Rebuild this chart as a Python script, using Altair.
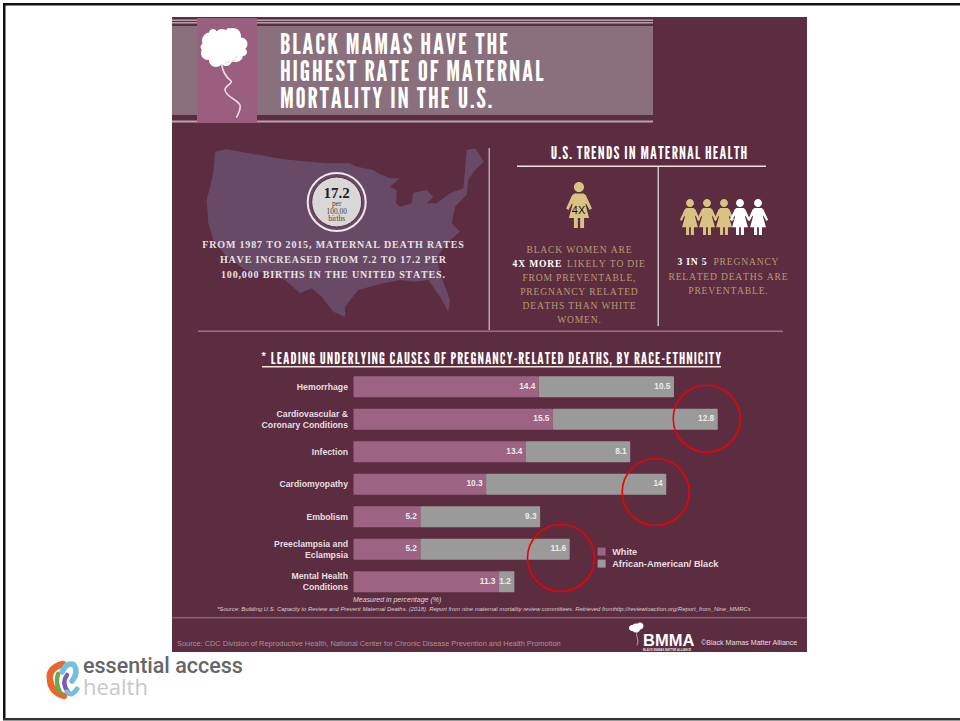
import altair as alt
import pandas as pd

# Stacked-bar data: deaths by cause and race-ethnicity (percent)
CAUSES = [
    "Hemorrhage",
    "Cardiovascular &\nCoronary Conditions",
    "Infection",
    "Cardiomyopathy",
    "Embolism",
    "Preeclampsia and\nEclampsia",
    "Mental Health\nConditions",
]
WHITE = [14.4, 15.5, 13.4, 10.3, 5.2, 5.2, 11.3]
BLACK = [10.5, 12.8, 8.1, 14, 9.3, 11.6, 1.2]
SERIES = ["White", "African-American/ Black"]
SERIES_COLORS = ["#9c6482", "#9a9a9a"]

# Brand colours
PANEL = "#5c2c40"
BAND = "#8a707c"
COLUMN = "#9a5f7e"
STRIPE = "#b9a3ac"
TAN = "#b89a72"
GOLD = "#d9c283"
PALE = "#e9e2e2"
RED = "#ee0000"

HEAD = "League Gothic, Liberation Sans Narrow, Liberation Sans"
SERIF = "Liberation Serif"
SANS = "Liberation Sans"

WIDTH, HEIGHT = 960, 721

stub = pd.DataFrame({"k": [0]})


def track(s, ch="\u200a"):
    return ch.join(s)


def box(x0, x1, y0, y1, color):
    return alt.Chart(stub).mark_rect(color=color).encode(
        x=alt.value(x0), x2=alt.value(x1), y=alt.value(y0), y2=alt.value(y1)
    )


def label(s, x, y, size, color, font=SANS, weight="normal", style="normal", align="center"):
    return alt.Chart(stub).mark_text(
        font=font, fontSize=size, fontWeight=weight, fontStyle=style,
        color=color, align=align, baseline="alphabetic",
    ).encode(x=alt.value(x), y=alt.value(y), text=alt.value(s))


def glyph(path, fill=None, stroke=None, width=1.0, x=0, y=0, half=1.0):
    """Custom SVG path drawn as a symbol; `half` is the pixel length of one path unit."""
    props = dict(shape=path, size=(2 * half) ** 2, opacity=1)
    if fill:
        props.update(filled=True, fill=fill, strokeWidth=0)
    else:
        props.update(filled=False, stroke=stroke, strokeWidth=width,
                     strokeCap="round", strokeJoin="round", fill=None)
    return alt.Chart(stub).mark_point(**props).encode(x=alt.value(x), y=alt.value(y))


def ring(x, y, diameter, stroke, width, fill=None):
    props = dict(shape="circle", size=diameter ** 2, opacity=1, stroke=stroke, strokeWidth=width)
    if fill:
        props.update(filled=True, fill=fill)
    else:
        props.update(filled=False)
    return alt.Chart(stub).mark_point(**props).encode(x=alt.value(x), y=alt.value(y))


def disc(cx, cy, r):
    return f"M{cx - r},{cy}A{r},{r} 0 1 1 {cx + r},{cy}A{r},{r} 0 1 1 {cx - r},{cy}Z"


# Contiguous-US silhouette
US_X = [135, 170, 250, 340, 470, 540, 560, 610, 625, 660, 690, 660, 680, 678, 690, 725, 730, 770, 790,
        770, 800, 840, 880, 885, 890, 915, 942, 915, 895, 890, 855, 845, 870, 830, 800, 810, 840, 835,
        810, 775, 735, 690, 640, 565, 525, 525, 490, 455, 425, 390, 345, 290, 225, 165, 130, 115, 110, 130]
US_Y = [425, 418, 432, 448, 460, 460, 470, 480, 490, 505, 505, 530, 540, 580, 590, 580, 548, 540, 560,
        580, 580, 550, 535, 480, 420, 415, 455, 480, 510, 555, 590, 640, 665, 700, 745, 790, 870, 905,
        860, 810, 815, 810, 820, 840, 890, 920, 905, 860, 835, 850, 810, 790, 780, 735, 690, 640, 570, 490]
us_path = "M" + "L".join(f"{170 + a / 3:.1f},{10 + b / 3:.1f}" for a, b in zip(US_X, US_Y)) + "Z"

# Tree-crown silhouette, built from overlapping discs
CROWN = [(223, 47, 15), (211, 41, 9), (222, 36, 7), (233, 36, 8), (241, 44, 6.5), (243, 52, 4),
         (208, 53, 7), (216, 60, 7), (226, 60, 6), (236, 55, 7), (204, 47, 3.5), (213, 33, 4), (229, 31, 3)]
crown_path = "".join(disc(*c) for c in CROWN)
stem_path = "M221.7,65C223,73 226,77 231,81C233,84 225,85 225,90C226,97 238,100 240,105C241,110 238,114 236.7,117"
twig_path = "M225,62C230,63 235,62 237,56"

# Standing-woman pictogram, one path unit = half its height
WOMAN = (disc(0, -0.78, 0.22) +
         "M-0.2,-0.5L0.2,-0.5L0.3,-0.42L0.56,0.15L0.46,0.22L0.3,-0.08L0.28,-0.02L0.44,0.57L0.22,0.57"
         "L0.22,1L0.05,1L0.05,0.57L-0.05,0.57L-0.05,1L-0.22,1L-0.22,0.57L-0.44,0.57L-0.28,-0.02"
         "L-0.3,-0.08L-0.46,0.22L-0.56,0.15L-0.3,-0.42Z")
ROW_X = [690, 707, 724, 740, 758]
ROW_FILL = [GOLD, GOLD, GOLD, "#ffffff", "#ffffff"]

# ---- Backdrop -------------------------------------------------------------
backdrop = [
    box(3, WIDTH, 3, 5.5, "#111111"),
    box(3, 5.5, 3, 718, "#111111"),
    box(3, WIDTH, 718, 720.5, "#333333"),
    box(172, 807, 17, 652, PANEL),
    box(172, 653, 19.5, 21, STRIPE),
    box(172, 653, 22, 23.5, STRIPE),
    box(172, 653, 26, 115, BAND),
    box(172, 653, 120.5, 122.5, STRIPE),
    box(197, 257, 18, 123, COLUMN),
    box(198, 783, 330.5, 332, "#9a6f88"),
    box(172, 807, 617, 618.5, "#866272"),
    box(488.5, 490, 148, 330, "#b9a9ae"),
    box(517, 766, 165.5, 167, "#efe3da"),
    box(657.5, 659, 167, 326, "#c9bfc0"),
    box(262, 721, 366, 367.5, "#efe3da"),
]

# ---- Header ---------------------------------------------------------------
header = [
    glyph(crown_path, fill="#ffffff"),
    glyph(stem_path, stroke="#f3dce4", width=1.6),
    glyph(twig_path, stroke="#f3dce4", width=1.2),
    label(track("BLACK MAMAS HAVE THE"), 280, 54, 28.5, "#ffffff", HEAD, align="left"),
    label(track("HIGHEST RATE OF MATERNAL"), 280, 81, 28.5, "#ffffff", HEAD, align="left"),
    label(track("MORTALITY IN THE U.S."), 280, 108, 28.5, "#ffffff", HEAD, align="left"),
]

# ---- Map panel ------------------------------------------------------------
us_map = [
    glyph(us_path, fill="#684a66"),
    ring(336.7, 202, 58, "#efe9e9", 2),
    ring(336.7, 202, 50, PANEL, 1, fill="#d9d7d7"),
    label("17.2", 336.7, 197.5, 15, "#222222", SERIF, "bold"),
    label("per", 336.7, 206, 7.5, "#444444", SERIF),
    label("100,00", 336.7, 213.5, 7.5, "#444444", SERIF),
    label("births", 336.7, 221, 7.5, "#444444", SERIF),
    label(track("FROM 1987 TO 2015, MATERNAL DEATH RATES"), 333, 248, 10, PALE, SERIF, "bold"),
    label(track("HAVE INCREASED FROM 7.2 TO 17.2 PER"), 333, 263, 10, PALE, SERIF, "bold"),
    label(track("100,000 BIRTHS IN THE UNITED STATES."), 333, 278, 10, PALE, SERIF, "bold"),
]

# ---- Trends panel ---------------------------------------------------------
trends = [
    label(track("U.S. TRENDS IN MATERNAL HEALTH"), 649, 159, 17.5, "#ffffff", HEAD),
    glyph(WOMAN, fill=GOLD, x=579, y=205, half=23),
    label("4X", 578.5, 214, 11, "#111111", SANS),
    label(track("BLACK WOMEN ARE"), 579, 253, 9.6, TAN, SERIF),
    label(track("4X MORE"), 537, 267, 9.6, "#ffffff", SERIF, "bold"),
    label(track("LIKELY TO DIE"), 606, 267, 9.6, TAN, SERIF),
    label(track("FROM PREVENTABLE,"), 579, 281, 9.6, TAN, SERIF),
    label(track("PREGNANCY RELATED"), 579, 295, 9.6, TAN, SERIF),
    label(track("DEATHS THAN WHITE"), 579, 309, 9.6, TAN, SERIF),
    label(track("WOMEN."), 579, 323, 9.6, TAN, SERIF),
    label(track("3 IN 5"), 692, 265, 9.6, "#ffffff", SERIF, "bold"),
    label(track("PREGNANCY"), 746, 265, 9.6, TAN, SERIF),
    label(track("RELATED DEATHS ARE"), 728, 280, 9.6, TAN, SERIF),
    label(track("PREVENTABLE."), 728, 294, 9.6, TAN, SERIF),
]
trends += [glyph(WOMAN, fill=f, x=x, y=217, half=18) for x, f in zip(ROW_X, ROW_FILL)]

# ---- Stacked bars ---------------------------------------------------------
rows = []
for cause, w, b in zip(CAUSES, WHITE, BLACK):
    rows.append({"cause": cause, "race": SERIES[0], "ord": 0, "value": w})
    rows.append({"cause": cause, "race": SERIES[1], "ord": 1, "value": b})
bars_df = pd.DataFrame(rows)

x_scale = alt.Scale(domain=[0, 30], range=[353.5, 353.5 + 30 * 12.87])
y_scale = alt.Scale(domain=CAUSES, range=[370.5, 598], paddingInner=0.35, paddingOuter=0.175)
y_axis = alt.Axis(
    title=None, domain=False, ticks=False, grid=False, orient="left", offset=-347.5,
    labelPadding=0, labelColor="#e6dfe2", labelFont=SANS, labelFontSize=8.7,
    labelFontWeight="bold", labelLineHeight=11, labelLimit=200, zindex=1,
    labelExpr="split(datum.label, '\\n')",
    labelOffset={"condition": {"test": "indexof(datum.value, '\\n') >= 0", "value": -5.5}, "value": 0},
)
stacked = alt.Chart(bars_df).transform_stack(
    stack="value", as_=["x0", "x1"], groupby=["cause"], sort=[alt.SortField("ord")]
)
bars = stacked.mark_bar(cornerRadius=1).encode(
    x=alt.X("x0:Q", scale=x_scale, axis=None),
    x2="x1:Q",
    y=alt.Y("cause:N", scale=y_scale, sort=CAUSES, axis=y_axis),
    color=alt.Color(
        "race:N",
        scale=alt.Scale(domain=SERIES, range=SERIES_COLORS),
        legend=alt.Legend(
            title=None, orient="none", legendX=597, legendY=547, symbolType="square",
            symbolSize=64, symbolStrokeWidth=0, labelColor="#e6dfe2", labelFont=SANS,
            labelFontSize=9.2, labelFontWeight="bold", rowPadding=2, labelOffset=6, zindex=1,
        ),
    ),
)
values = stacked.mark_text(
    align="right", baseline="middle", dx=-3.5, font=SANS, fontSize=8.3, fontWeight="bold", color="#eeeaea"
).encode(
    x=alt.X("x1:Q", scale=x_scale, axis=None),
    y=alt.Y("cause:N", scale=y_scale, sort=CAUSES, axis=y_axis),
    text=alt.Text("value:Q"),
)
circles = [
    ring(706.7, 418.7, 67, RED, 1.6),
    ring(655.7, 492, 67, RED, 1.6),
    ring(561, 558, 67, RED, 1.6),
]

# ---- Captions and footer --------------------------------------------------
notes = [
    label(track("* LEADING UNDERLYING CAUSES OF PREGNANCY-RELATED DEATHS, BY RACE-ETHNICITY"),
          491, 364, 16.4, "#ffffff", HEAD),
    label("Measured in percentage (%)", 353, 602, 7, "#e0d8dc", SANS, style="italic", align="left"),
    label("*Source: Building U.S. Capacity to Review and Prevent Maternal Deaths. (2018). Report from nine "
          "maternal mortality review committees. Retrieved fromhttp://reviewtoaction.org/Report_from_Nine_MMRCs",
          217, 611, 5.9, "#d9d0d4", SANS, style="italic", align="left"),
    label("Source: CDC Division of Reproductive Health, National Center for Chronic Disease Prevention and Health Promotion",
          177, 646, 7.43, "#a8929c", SANS, align="left"),
    glyph(disc(636, 628, 4.5) + disc(640, 626, 3.5) + disc(632, 628, 3), fill="#ffffff"),
    glyph("M637,632C635,636 640,640 637,645", stroke="#d8c0c8", width=0.8),
    label("BMMA", 643, 645.5, 16.5, "#ffffff", SANS, "bold", align="left"),
    label("BLACK MAMAS MATTER ALLIANCE", 643, 650.5, 2.8, "#e8e0e4", SANS, "bold", align="left"),
    label("\u00a9Black Mamas Matter Alliance", 701, 645, 7.1, "#e6dfe2", SANS, align="left"),
]

# ---- Logo ------------------------------------------------------------------
logo = [
    glyph("M63,664Q48,668 50,680Q51,692 64,696", stroke="#e9662c", width=6.5),
    glyph("M58,674Q55,683 60,692", stroke="#6aa84f", width=4.5),
    glyph("M67,675Q61,683 68,692", stroke="#7a5bb5", width=4.5),
    glyph("M62,672Q67,661 74,665Q79,672 72,681", stroke="#74bfe0", width=5.5),
    glyph("M67,692Q72,697 77,689", stroke="#74bfe0", width=5),
    label("essential access", 83, 673, 21.5, "#666666", "Roboto", 500, align="left"),
    label("health", 83, 695, 22, "#c8c8c8", "Open Sans", align="left"),
]

chart = alt.layer(
    *backdrop, *header, *us_map, *trends, bars, values, *circles, *notes, *logo
).properties(
    width=WIDTH, height=HEIGHT, padding=0, autosize="none", background="#ffffff"
).configure_view(strokeWidth=0)

chart.save("out.html", embed_options={"renderer": "svg", "actions": False})
